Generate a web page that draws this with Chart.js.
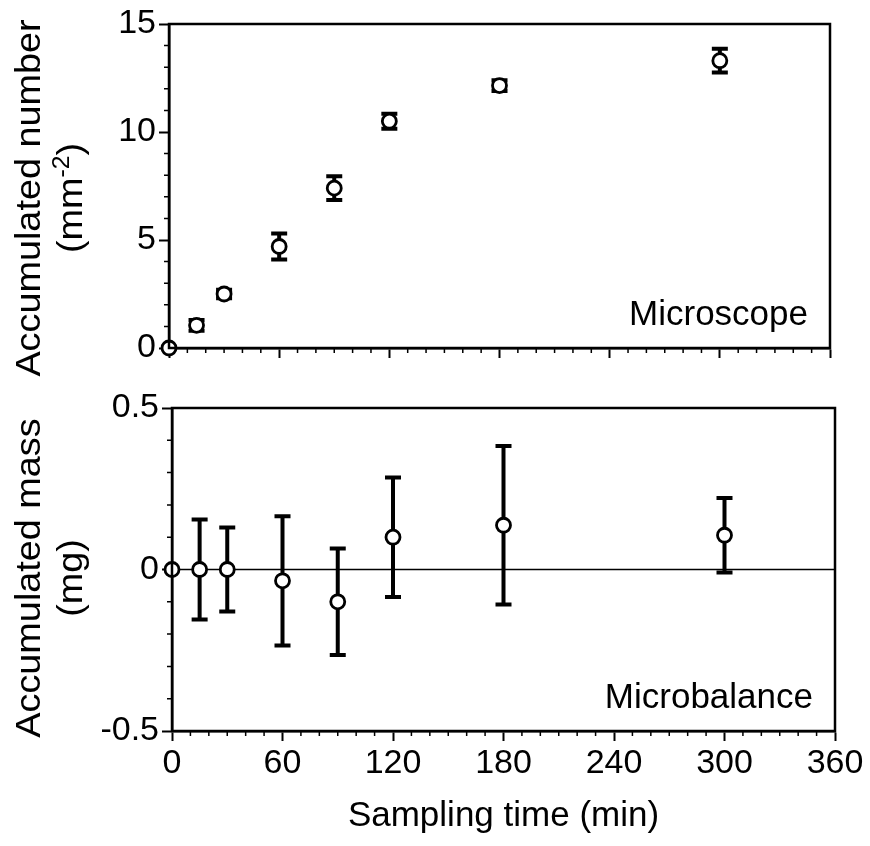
<!DOCTYPE html>
<html><head><meta charset="utf-8">
<script src="https://cdn.jsdelivr.net/npm/chart.js@4.4.1/dist/chart.umd.min.js"></script>
<style>
html,body{margin:0;padding:0;background:#fff;}
#wrap{position:relative;width:870px;height:846px;background:#fff;}
canvas{position:absolute;left:0;}
#c1{top:0;} #c2{top:380px;}
</style></head><body>
<div id="wrap"><canvas id="c1" width="870" height="380"></canvas><canvas id="c2" width="870" height="466"></canvas></div>
<script>
// ---- data ----
const sampleTimes = [0, 15, 30, 60, 90, 120, 180, 300];
const numberMean  = [0, 1.05, 2.5, 4.7, 7.4, 10.5, 12.15, 13.3];
const numberErr   = [0, 0.25, 0.2, 0.6, 0.55, 0.35, 0.25, 0.55];
const massMean    = [0, 0, 0, -0.035, -0.10, 0.10, 0.137, 0.106];
const massErr     = [0, 0.155, 0.13, 0.2, 0.165, 0.185, 0.245, 0.115];
const timeTicks   = [0, 60, 120, 180, 240, 300, 360];
const numberTicks = [0, 5, 10, 15];
const massTicks   = [-0.5, 0, 0.5];

const FONT = '"Liberation Sans", Arial, "DejaVu Sans", sans-serif';
Chart.defaults.font.family = FONT;
Chart.defaults.color = '#000';

function panelPlugin(cfg) {
  return {
    id: 'panelDeco',
    beforeDatasetsDraw(chart) {
      const {ctx, scales: {x, y}} = chart;
      ctx.save();
      ctx.strokeStyle = '#000';
      if (cfg.zeroLine) {
        const a = chart.chartArea;
        const py = y.getPixelForValue(0);
        ctx.lineWidth = 1.5;
        ctx.beginPath(); ctx.moveTo(a.left, py); ctx.lineTo(a.right, py); ctx.stroke();
      }
      ctx.lineWidth = 4; ctx.lineCap = 'butt';
      cfg.mean.forEach((m, i) => {
        const e = cfg.err[i]; if (!e) return;
        const px = x.getPixelForValue(sampleTimes[i]);
        const pt = y.getPixelForValue(m + e), pb = y.getPixelForValue(m - e);
        ctx.beginPath();
        ctx.moveTo(px, pt); ctx.lineTo(px, pb);
        ctx.moveTo(px - 8, pt); ctx.lineTo(px + 8, pt);
        ctx.moveTo(px - 8, pb); ctx.lineTo(px + 8, pb);
        ctx.stroke();
      });
      ctx.restore();
    },
    afterDraw(chart) {
      const {ctx, chartArea: a, scales: {x, y}} = chart;
      ctx.save();
      ctx.strokeStyle = '#000'; ctx.fillStyle = '#000';
      ctx.lineWidth = 2.5;
      ctx.strokeRect(a.left, a.top, a.right - a.left, a.bottom - a.top);
      ctx.lineWidth = 1.5;
      ctx.beginPath();
      for (let v = 0; v <= 360; v += 10) {
        if (v % 60 === 0) continue;
        const px = x.getPixelForValue(v);
        ctx.moveTo(px, a.bottom); ctx.lineTo(px, a.bottom + 5);
      }
      for (let k = cfg.minorFrom; k <= cfg.minorTo; k++) {
        if (k % cfg.minorSkip === 0) continue;
        const py = y.getPixelForValue(k * cfg.minorStep);
        ctx.moveTo(a.left - 5, py); ctx.lineTo(a.left, py);
      }
      ctx.stroke();
      ctx.font = '35px ' + FONT;
      ctx.textAlign = 'right'; ctx.textBaseline = 'alphabetic';
      ctx.fillText(cfg.label, a.right - 22, a.bottom - 23);
      ctx.save();
      ctx.translate(40, cfg.titleY); ctx.rotate(-Math.PI / 2); ctx.scale(1.08, 1);
      ctx.textAlign = 'center';
      ctx.font = '35px ' + FONT;
      ctx.fillText(cfg.title1, 0, 0);
      ctx.restore();
      ctx.save();
      ctx.translate(82, cfg.titleY); ctx.rotate(-Math.PI / 2); ctx.scale(1.08, 1);
      ctx.textAlign = 'left';
      const big = '35px ' + FONT, small = '23px ' + FONT;
      ctx.font = big; const w1 = ctx.measureText(cfg.title2a).width;
      const w3 = ctx.measureText(cfg.title2c).width;
      ctx.font = small; const w2 = cfg.title2b ? ctx.measureText(cfg.title2b).width : 0;
      let sx = -(w1 + w2 + w3) / 2;
      ctx.font = big; ctx.fillText(cfg.title2a, sx, 0); sx += w1;
      if (cfg.title2b) { ctx.font = small; ctx.fillText(cfg.title2b, sx, -13); sx += w2; }
      ctx.font = big; ctx.fillText(cfg.title2c, sx, 0);
      ctx.restore();
      ctx.restore();
    }
  };
}

function pointsDataset(mean) {
  return {
    data: sampleTimes.map((t, i) => ({x: t, y: mean[i]})),
    showLine: false,
    pointRadius: 7,
    pointBorderWidth: 2.8,
    pointBackgroundColor: '#fff',
    pointBorderColor: '#000',
    clip: false
  };
}

function xScale(showLabels, height) {
  return {
    type: 'linear', min: 0, max: 360,
    afterBuildTicks: s => { s.ticks = timeTicks.map(v => ({value: v})); },
    afterFit: s => { s.height = height; },
    grid: {drawOnChartArea: false, drawTicks: true, tickLength: 10, tickWidth: 2, tickColor: '#000'},
    border: {display: true, color: '#000', width: 2.5},
    ticks: {display: showLabels, font: {size: 34}, padding: 2, color: '#000', maxRotation: 0, autoSkip: false},
    title: showLabels ? {display: true, text: 'Sampling time (min)', font: {size: 35}, color: '#000', padding: {top: 0, bottom: 9}} : {display: false}
  };
}

function yScale(min, max, ticksArr, width) {
  return {
    type: 'linear', min: min, max: max,
    afterBuildTicks: s => { s.ticks = ticksArr.map(v => ({value: v})); },
    afterFit: s => { s.width = width; },
    grid: {drawOnChartArea: false, drawTicks: true, tickLength: 10, tickWidth: 2, tickColor: '#000'},
    border: {display: true, color: '#000', width: 2.5},
    ticks: {font: {size: 34}, padding: 3, color: '#000', autoSkip: false}
  };
}

const common = {
  responsive: false, animation: false, events: [],
  plugins: {legend: {display: false}, tooltip: {enabled: false}}
};

new Chart(document.getElementById('c1'), {
  type: 'scatter',
  data: {datasets: [pointsDataset(numberMean)]},
  options: Object.assign({}, common, {
    layout: {padding: {top: 24, right: 40, bottom: 0, left: 0}},
    scales: {x: xScale(false, 32), y: yScale(0, 15, numberTicks, 169)}
  }),
  plugins: [panelPlugin({mean: numberMean, err: numberErr, label: 'Microscope',
    minorFrom: 0, minorTo: 15, minorSkip: 5, minorStep: 1,
    titleY: 198, title1: 'Accumulated number', title2a: '(mm', title2b: '-2', title2c: ')', zeroLine: false})]
});

new Chart(document.getElementById('c2'), {
  type: 'scatter',
  data: {datasets: [pointsDataset(massMean)]},
  options: Object.assign({}, common, {
    layout: {padding: {top: 28, right: 35, bottom: 0, left: 0}},
    scales: {x: xScale(true, 115), y: yScale(-0.5, 0.5, massTicks, 172)}
  }),
  plugins: [panelPlugin({mean: massMean, err: massErr, label: 'Microbalance',
    minorFrom: -5, minorTo: 5, minorSkip: 5, minorStep: 0.1,
    titleY: 198, title1: 'Accumulated mass', title2a: '(mg', title2b: '', title2c: ')', zeroLine: true})]
});
</script>
</body></html>
